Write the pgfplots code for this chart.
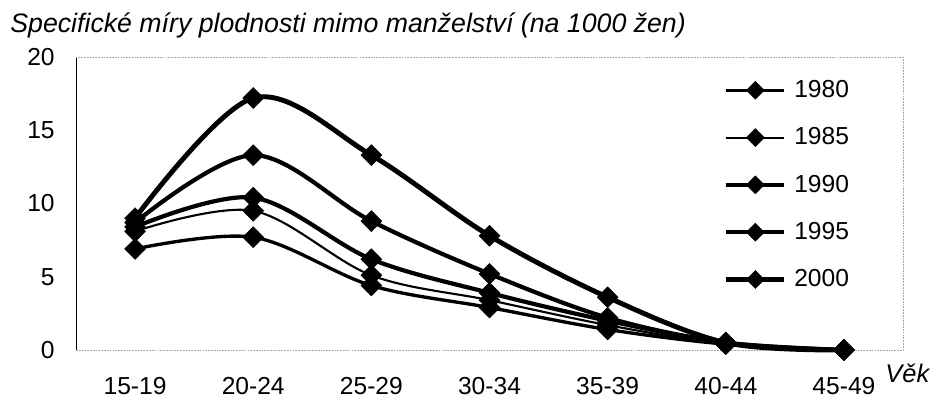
\documentclass[border=0pt]{standalone}
\usepackage{pgfplots}
\pgfplotsset{compat=1.18}
\usepackage{fontspec}
\setmainfont{Liberation Sans}
\begin{document}
\begin{tikzpicture}
\path[use as bounding box] (-15.2mm,-10.2mm) rectangle (170.8mm,70mm);
\begin{axis}[
  anchor=south west, at={(0,0)},
  scale only axis,
  width=165.4mm, height=58.6mm,
  xmin=-0.5, xmax=6.5, ymin=0, ymax=20,
  xtick={0,...,6},
  xticklabels={15-19,20-24,25-29,30-34,35-39,40-44,45-49},
  ytick={0,5,10,15,20},
  major tick length=0pt,
  tick style={draw=none},
  axis line style={draw=none},
  clip=false,
  /pgf/number format/assume math mode=true,
  tick label style={font=\fontsize{14}{16}\selectfont},
  yticklabel style={inner sep=0pt, xshift=-4.2mm},
  xticklabel style={inner sep=0pt, yshift=-5.4mm},
  every axis plot/.append style={smooth, tension=0.55, black,
     mark=square*, mark size=4.2pt,
     mark options={solid, rotate=45, line width=0.3pt, fill=black}},
  legend image code/.code={\draw[mark repeat=2,mark phase=2,#1, mark size=3.6pt] plot coordinates {(0mm,0mm)(5.8mm,0mm)(11.6mm,0mm)};},
  legend cell align=left,
  legend style={draw=none, fill=none, at={(rel axis cs:0.783,0.9215)}, anchor=north west,
     inner sep=0pt, row sep=5.5mm, column sep=1.5mm,
     nodes={inner sep=0pt, font=\fontsize{14}{16}\selectfont}},
]
\draw[black, line width=0.4pt] (rel axis cs:0,0) -- (rel axis cs:0,1);
\draw[gray!70, line width=0.4pt, dash pattern=on 1pt off 0.6pt] (rel axis cs:0,0) -- (rel axis cs:1,0) -- (rel axis cs:1,1) -- (rel axis cs:0,1);

\addplot[line width=1.9pt] coordinates {(0,6.9) (1,7.7) (2,4.4) (3,2.9) (4,1.4) (5,0.4) (6,0.0)};
\addlegendentry{1980}
\addplot[line width=1.2pt] coordinates {(0,8.1) (1,9.5) (2,5.1) (3,3.4) (4,1.7) (5,0.4) (6,0.0)};
\addlegendentry{1985}
\addplot[line width=2.4pt] coordinates {(0,8.4) (1,10.4) (2,6.2) (3,3.9) (4,2.0) (5,0.5) (6,0.0)};
\addlegendentry{1990}
\addplot[line width=2.4pt] coordinates {(0,8.7) (1,13.3) (2,8.8) (3,5.2) (4,2.2) (5,0.5) (6,0.0)};
\addlegendentry{1995}
\addplot[line width=2.8pt] coordinates {(0,9.0) (1,17.2) (2,13.3) (3,7.8) (4,3.6) (5,0.5) (6,0.0)};
\addlegendentry{2000}

\node[anchor=base west, inner sep=0pt, font=\fontsize{15.2}{17}\selectfont\itshape] at ([shift={(-13.2mm,63.5mm)}]rel axis cs:0,0) {Specifické míry plodnosti mimo manželství (na 1000 žen)};
\node[anchor=base west, inner sep=0pt, font=\fontsize{14.5}{16}\selectfont\itshape] at ([shift={(161.8mm,-6.4mm)}]rel axis cs:0,0) {Věk};
\end{axis}
\end{tikzpicture}
\end{document}
